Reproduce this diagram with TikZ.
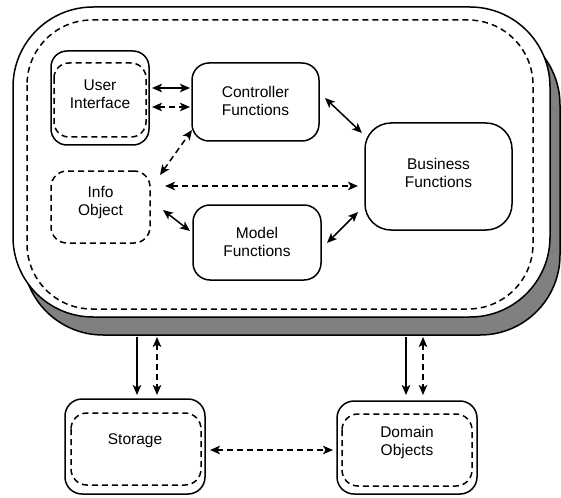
\documentclass[tikz,border=0pt]{standalone}
\usepackage{fontspec}
\setmainfont{Liberation Sans}
\usetikzlibrary{arrows.meta,calc}
\begin{document}
\begin{tikzpicture}[x=1pt,y=-1pt,
  every node/.style={inner sep=0pt, outer sep=0pt},
  boxline/.style={line width=1.5pt},
  dashline/.style={line width=1.5pt, dash pattern=on 6pt off 4pt},
  solidbox/.style={draw, boxline, fill=white, rounded corners=#1},
  dashbox/.style={draw, dashline, fill=white, rounded corners=#1},
  lbl/.style={align=center, font=\fontsize{15.5}{18}\selectfont},
  tip/.style={Stealth[length=10pt, width=8.5pt, inset=2.5pt]},
  conn/.style={boxline, -{Stealth[length=10pt, width=8.5pt, inset=2.5pt]}},
  conn2/.style={boxline, {Stealth[length=10pt, width=8.5pt, inset=2.5pt]}-{Stealth[length=10pt, width=8.5pt, inset=2.5pt]}},
  dconn2/.style={dashline, {Stealth[length=10pt, width=8.5pt, inset=2.5pt]}-{Stealth[length=10pt, width=8.5pt, inset=2.5pt]}},
]
\useasboundingbox (0,0) rectangle (561,497);

% application container with its drop shadow
\node[draw, boxline, fill={rgb,255:red,128;green,128;blue,128}, rounded corners=80pt,
      minimum width=537pt, minimum height=310pt] (appshadow) at (291.5,180) {};
\node[solidbox=80pt, minimum width=537pt, minimum height=310pt] (app) at (281.5,162) {};
\draw[dashline, rounded corners=65pt] ($(app.north west)+(14,13)$) rectangle ($(app.south east)+(-17,-8)$);

% inner components
\node[solidbox=16pt, minimum width=98pt, minimum height=94pt] (ui) at (100,98) {};
\draw[dashline, rounded corners=15pt] ($(ui.north west)+(3,12)$) rectangle ($(ui.south east)+(-3,-8)$);
\node[lbl] (uiT) at ($(ui.center)+(0,-4)$) {User\\Interface};

\node[solidbox=17pt, minimum width=127pt, minimum height=78pt] (ctrl) at (255.5,102) {};
\node[lbl] (ctrlT) at ($(ctrl.center)+(0,-1)$) {Controller\\Functions};

\node[dashbox=16pt, minimum width=99pt, minimum height=72pt] (info) at (100.5,207) {};
\node[lbl] (infoT) at ($(info.center)+(0,-5)$) {Info\\Object};

\node[solidbox=17pt, minimum width=128pt, minimum height=75pt] (model) at (257,242.5) {};
\node[lbl] (modelT) at ($(model.center)+(0,-1)$) {Model\\Functions};

\node[solidbox=26pt, minimum width=147pt, minimum height=107pt] (biz) at (438.5,176.5) {};
\node[lbl] (bizT) at ($(biz.center)+(0,-4)$) {Business\\Functions};

% external stores
\node[solidbox=17pt, minimum width=140pt, minimum height=95pt] (store) at (135,446.5) {};
\draw[dashline, rounded corners=16pt] ($(store.north west)+(6,14)$) rectangle ($(store.south east)+(-4,-9)$);
\node[lbl] (storeT) at ($(store.center)+(0,-6)$) {Storage};

\node[solidbox=17pt, minimum width=140pt, minimum height=93pt] (dom) at (407,447.5) {};
\draw[dashline, rounded corners=16pt] ($(dom.north west)+(5,13)$) rectangle ($(dom.south east)+(-5,-8)$);
\node[lbl] (domT) at ($(dom.center)+(0,-5)$) {Domain\\Objects};

% connectors inside the container
\draw[conn2] ($(ui.east)+(3,-10)$) -- ($(ctrl.west)+(-2,-14)$);
\draw[dconn2] ($(ui.east)+(3,9)$) -- ($(ctrl.west)+(-2,5)$);
\draw[dconn2] ($(info.north east)+(10,4)$) -- ($(ctrl.south west)+(0,-11)$);
\draw[dconn2] ($(info.east)+(15,-21)$) -- ($(biz.west)+(-7,9.5)$);
\draw[conn2] ($(info.east)+(13,3)$) -- ($(model.west)+(-3,-11.5)$);
\draw[conn2] ($(ctrl.east)+(6,-4)$) -- ($(biz.west)+(-3,-43.5)$);
\draw[conn2] ($(model.east)+(6,0.5)$) -- ($(biz.west)+(-7,35.5)$);

% connectors to the external stores
\draw[conn] ($(appshadow.south -| store.north)+(2,2)$) -- ($(store.north)+(2,-4)$);
\draw[dconn2] ($(appshadow.south -| store.north)+(22,2)$) -- ($(store.north)+(22,-4)$);
\draw[conn] ($(appshadow.south -| dom.north)+(-1,2)$) -- ($(dom.north)+(-1,-6)$);
\draw[dconn2] ($(appshadow.south -| dom.north)+(16,2)$) -- ($(dom.north)+(16,-6)$);
\draw[dconn2] ($(store.east)+(5,3.5)$) -- ($(dom.west)+(-4,2.5)$);
\end{tikzpicture}
\end{document}
